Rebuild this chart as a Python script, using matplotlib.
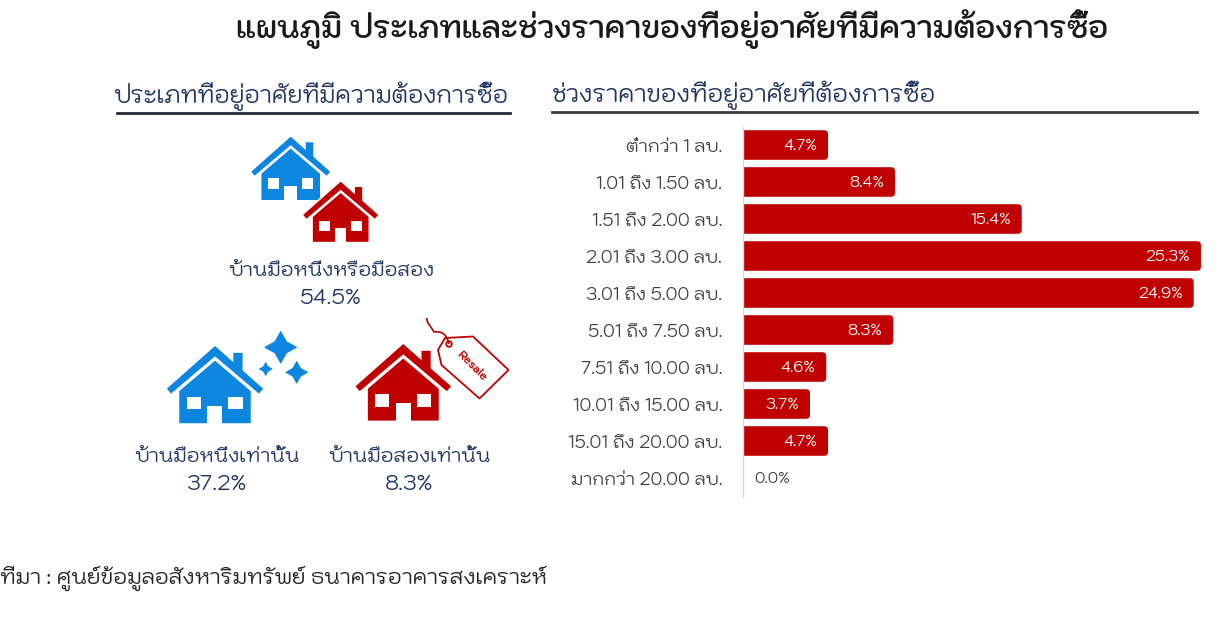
#!/usr/bin/env python3
"""Thai housing demand chart: house types and price ranges."""

import matplotlib
matplotlib.use("Agg")
import matplotlib.pyplot as plt
from matplotlib.patches import FancyBboxPatch, Polygon, Circle, PathPatch
from matplotlib.path import Path

WIDTH, HEIGHT = 1230, 639
THAI_FONTS = ["Kodchasan", "Prompt", "Noto Sans Thai", "DejaVu Sans"]
plt.rcParams["font.family"] = THAI_FONTS

# Price ranges and share of buyers (%)
price_ranges = [
    "ต่ำกว่า 1 ลบ.", "1.01 ถึง 1.50 ลบ.", "1.51 ถึง 2.00 ลบ.", "2.01 ถึง 3.00 ลบ.",
    "3.01 ถึง 5.00 ลบ.", "5.01 ถึง 7.50 ลบ.", "7.51 ถึง 10.00 ลบ.",
    "10.01 ถึง 15.00 ลบ.", "15.01 ถึง 20.00 ลบ.", "มากกว่า 20.00 ลบ.",
]
price_shares = [4.7, 8.4, 15.4, 25.3, 24.9, 8.3, 4.6, 3.7, 4.7, 0.0]

# House types
type_labels = ["บ้านมือหนึ่งหรือมือสอง", "บ้านมือหนึ่งเท่านั้น", "บ้านมือสองเท่านั้น"]
type_shares = ["54.5%", "37.2%", "8.3%"]

title = "แผนภูมิ ประเภทและช่วงราคาของที่อยู่อาศัยที่มีความต้องการซื้อ"
left_header = "ประเภทที่อยู่อาศัยที่มีความต้องการซื้อ"
right_header = "ช่วงราคาของที่อยู่อาศัยที่ต้องการซื้อ"
source = "ที่มา : ศูนย์ข้อมูลอสังหาริมทรัพย์ ธนาคารอาคารสงเคราะห์"

BLUE = "#0c86df"
RED = "#c00000"
NAVY = "#1f3560"
GREY = "#3f3f3f"


def draw_house(ax, cx, top, scale, color, halo=False):
    """House icon, cx/top is the tip of the roof in pixels"""
    def pts(coords):
        return [(cx + x * scale, top + y * scale) for x, y in coords]

    chimney = [(15, 5.6), (22.6, 5.6), (22.6, 24), (15, 18)]
    roof = [(0, 0), (39.5, 35), (36, 39), (0, 8.5), (-36, 39), (-39.5, 35)]
    body = [(0, 12), (29.3, 37), (29.3, 63.3), (-29.3, 63.3), (-29.3, 37)]
    holes = [
        [(-23, 41.6), (-11.7, 41.6), (-11.7, 52), (-23, 52)],
        [(11, 41.6), (22.6, 41.6), (22.6, 52), (11, 52)],
        [(-6.4, 49), (6, 49), (6, 63.8), (-6.4, 63.8)],
    ]
    if halo:
        # white outline first so the house stands off what is behind it
        for shape in (chimney, roof, body):
            ax.add_patch(Polygon(pts(shape), closed=True, fc="white", ec="white", lw=2.5, zorder=3))
    for shape in (chimney, roof, body):
        ax.add_patch(Polygon(pts(shape), closed=True, fc=color, ec="none", zorder=3))
    for hole in holes:
        ax.add_patch(Polygon(pts(hole), closed=True, fc="white", ec="none", zorder=3))


def draw_sparkle(ax, cx, cy, r, color):
    """Four point star with hollow sides"""
    k = 0.36 * r
    verts = [(cx, cy - r), (cx + k, cy - k), (cx + r, cy), (cx + k, cy + k),
             (cx, cy + r), (cx - k, cy + k), (cx - r, cy), (cx - k, cy - k)]
    ax.add_patch(Polygon(verts, closed=True, fc=color, ec=color, lw=0.5, zorder=3))


def draw_tag(ax):
    """Resale tag next to the red house"""
    corners = [(445, 338), (473, 336.5), (508.5, 370), (479.5, 398.5), (441.5, 365), (438, 350)]
    ax.add_patch(Polygon(corners, closed=True, fc="white", ec=RED, lw=1.3, joinstyle="round", zorder=2))
    ax.add_patch(Circle((449, 344), 2.8, fc="white", ec=RED, lw=1.3, zorder=2))
    string = Path([(449, 344), (446, 330), (434, 332), (431, 327), (428, 323), (427, 320), (426.5, 318)],
                  [Path.MOVETO, Path.CURVE3, Path.CURVE3, Path.CURVE3, Path.CURVE3, Path.CURVE3, Path.CURVE3])
    ax.add_patch(PathPatch(string, fc="none", ec=RED, lw=1.2, zorder=2))
    ax.text(471, 366, "Resale", color=RED, fontsize=8, fontweight="bold", rotation=-45,
            rotation_mode="anchor", ha="center", va="center", zorder=3)


fig = plt.figure(figsize=(WIDTH / 100, HEIGHT / 100), dpi=100, facecolor="white")

# Bar panel
bar_left, bar_right = 743, WIDTH
bar_top, bar_bottom = 126.5, 496.5
ax = fig.add_axes([bar_left / WIDTH, 1 - bar_bottom / HEIGHT,
                   (bar_right - bar_left) / WIDTH, (bar_bottom - bar_top) / HEIGHT])
ax.set_xlim(0, (bar_right - bar_left) / 18.1)
ax.set_ylim(len(price_ranges) - 0.5, -0.5)
ax.patch.set_visible(False)
for side in ["top", "right", "bottom"]:
    ax.spines[side].set_visible(False)
ax.spines["left"].set_color("#d9d9d9")
ax.spines["left"].set_linewidth(1)
ax.set_xticks([])
ax.set_yticks(range(len(price_ranges)))
ax.set_yticklabels(price_ranges, fontsize=12.6, fontweight=400, color=GREY)
ax.tick_params(axis="y", length=0, pad=15)

bar_height = 0.8
for i, value in enumerate(price_shares):
    if value > 0:
        # starts left of the axis so the clipping keeps only the right corners round
        box = FancyBboxPatch((-1, i - bar_height / 2), value + 1, bar_height,
                             boxstyle="round,pad=0,rounding_size=0.22", mutation_aspect=0.49,
                             fc=RED, ec="none")
        ax.add_patch(box)
        ax.annotate(f"{value:.1f}%", (value, i), xytext=(-8, -1), textcoords="offset points",
                    ha="right", va="center", color="white", fontsize=11.2, fontweight=400)
    else:
        ax.annotate(f"{value:.1f}%", (value, i), xytext=(8, -1), textcoords="offset points",
                    ha="left", va="center", color=GREY, fontsize=11.2, fontweight=400)

# Overlay in pixel coordinates for the headers and icons
over = fig.add_axes([0, 0, 1, 1], zorder=5)
over.set_xlim(0, WIDTH)
over.set_ylim(HEIGHT, 0)
over.axis("off")

over.text(672, 29, title, ha="center", va="center", fontsize=21.75, fontweight=600, color="#1a1a1a")
over.text(311, 96, left_header, ha="center", va="center", fontsize=16.6, fontweight=400, color=NAVY)
over.text(552, 95, right_header, ha="left", va="center", fontsize=17.1, fontweight=400, color=NAVY)
over.plot([117, 510], [113, 113], color="#262c3a", lw=2)
over.plot([552, 1197], [112, 112], color="#3a3a3a", lw=2)

draw_house(over, 290.7, 136.7, 1.0, BLUE)
draw_house(over, 340.7, 181.7, 0.95, RED, halo=True)
draw_house(over, 215, 346, 1.22, BLUE)
draw_sparkle(over, 280.7, 347.3, 16, BLUE)
draw_sparkle(over, 265.7, 369, 6.5, BLUE)
draw_sparkle(over, 296.7, 372.3, 11, BLUE)
draw_tag(over)
draw_house(over, 403.3, 344, 1.21, RED, halo=True)

label_pos = [(331, 272, 298), (217, 458, 484), (409, 458, 484)]
for (x, y_label, y_value), label, share in zip(label_pos, type_labels, type_shares):
    over.text(x, y_label, label, ha="center", va="center", fontsize=14, fontweight=400, color=NAVY)
    over.text(x, y_value, share, ha="center", va="center", fontsize=15.4, fontweight=400, color=NAVY)

over.text(0, 578, source, ha="left", va="center", fontsize=15.2, fontweight=400, color="#222222")

fig.savefig("out.png", dpi=100)
